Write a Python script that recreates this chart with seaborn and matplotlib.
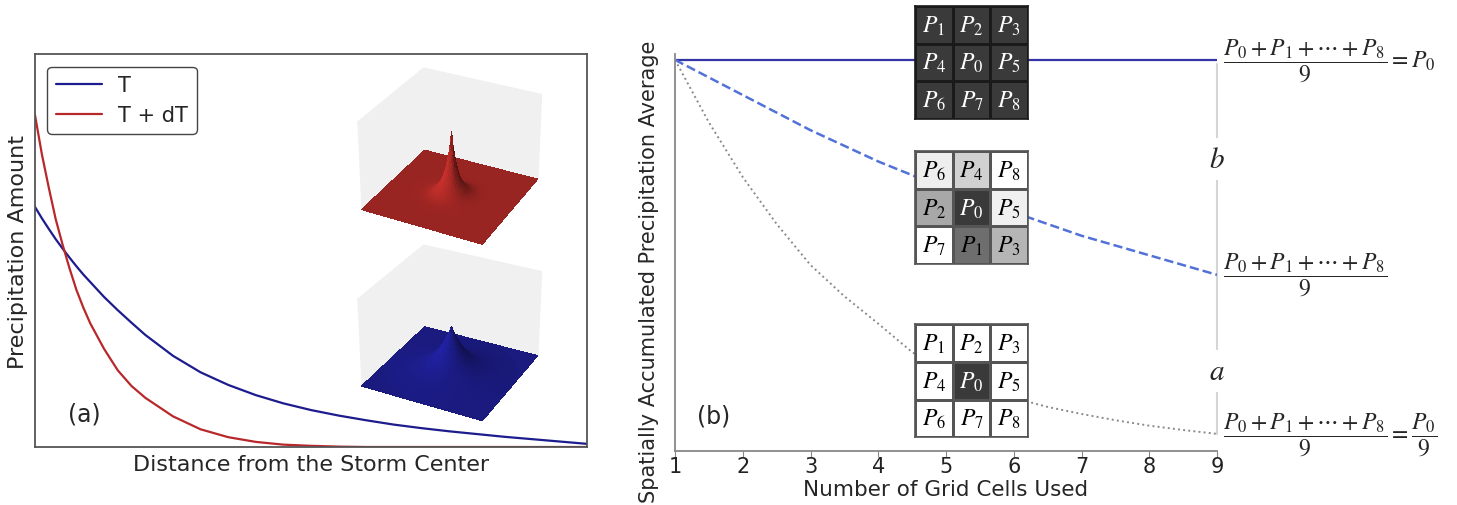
import numpy as np
import pandas as pd
import matplotlib
matplotlib.use("Agg")
import matplotlib.pyplot as plt
import seaborn as sns

sns.set_style("white")
plt.rcParams['font.family'] = ['DejaVu Sans']
plt.rcParams['mathtext.fontset'] = 'stix'

# (a) precipitation vs distance from storm centre (normalised)
dist = [0, 0.0125, 0.025, 0.0375, 0.05, 0.0625, 0.075, 0.0875, 0.1, 0.125, 0.15, 0.175,
        0.2, 0.25, 0.3, 0.35, 0.4, 0.45, 0.5, 0.55, 0.6, 0.65, 0.7, 0.75, 0.8, 0.85,
        0.9, 0.95, 1.0]
precip_T = [0.611, 0.582, 0.555, 0.529, 0.505, 0.482, 0.460, 0.439, 0.420, 0.382, 0.348,
            0.316, 0.285, 0.232, 0.190, 0.158, 0.132, 0.111, 0.094, 0.080, 0.068, 0.057,
            0.048, 0.040, 0.033, 0.026, 0.020, 0.014, 0.008]
precip_TdT = [0.845, 0.745, 0.660, 0.580, 0.515, 0.455, 0.400, 0.355, 0.315, 0.250, 0.195,
              0.155, 0.125, 0.078, 0.045, 0.025, 0.013, 0.006, 0.003, 0.001, 0.0, 0.0,
              0.0, 0.0, 0.0, 0.0, 0.0, 0.0, 0.0]

# (b) spatially accumulated average vs number of grid cells
n_cells = [1, 1.5, 2, 2.5, 3, 3.5, 4, 4.5, 5, 5.5, 6, 6.5, 7, 7.5, 8, 8.5, 9]
avg_uniform = [1.0] * len(n_cells)
avg_b = [1.0, 0.955, 0.91, 0.865, 0.82, 0.78, 0.74, 0.705, 0.67, 0.64, 0.61, 0.58,
         0.55, 0.525, 0.50, 0.475, 0.45]
avg_a = [1.0, 0.84, 0.70, 0.58, 0.475, 0.395, 0.325, 0.252, 0.205, 0.165, 0.135, 0.112,
         0.094, 0.078, 0.064, 0.053, 0.043]

# 3x3 cell layouts (index of P) and grey shade of each cell (0 black, 1 white)
cells_top = [[1, 2, 3], [4, 0, 5], [6, 7, 8]]
shade_top = [[0.23, 0.23, 0.23], [0.23, 0.23, 0.23], [0.23, 0.23, 0.23]]
cells_mid = [[6, 4, 8], [2, 0, 5], [7, 1, 3]]
shade_mid = [[0.93, 0.82, 1.0], [0.66, 0.23, 0.94], [1.0, 0.43, 0.71]]
cells_bot = [[1, 2, 3], [4, 0, 5], [6, 7, 8]]
shade_bot = [[1.0, 1.0, 1.0], [1.0, 0.23, 1.0], [1.0, 1.0, 1.0]]

fig = plt.figure(figsize=(14.57, 5.06), dpi=100)

#########################################################################
# panel (a)
axa = fig.add_axes([0.024, 0.1146, 0.379, 0.7767])
da = pd.DataFrame({'dist': dist + dist,
                   'precip': precip_T + precip_TdT,
                   'temp': ['T'] * len(dist) + ['T + dT'] * len(dist)})
sns.lineplot(data=da, x='dist', y='precip', hue='temp', estimator=None, sort=False,
             palette={'T': '#1c1c8e', 'T + dT': '#b8282b'}, lw=1.6, ax=axa)
axa.set_xlim(0, 1)
axa.set_ylim(0, 1.0)
axa.set_xticks([])
axa.set_yticks([])
for s in axa.spines.values():
    s.set_color('#555555')
    s.set_linewidth(1.3)
axa.set_xlabel('Distance from the Storm Center', fontsize=16, labelpad=5)
axa.set_ylabel('Precipitation Amount', fontsize=16, labelpad=5)
axa.legend(loc='upper left', fontsize=15, handlelength=2.2, frameon=True, fancybox=True,
           edgecolor='#444444', framealpha=1, borderaxespad=0.6)
axa.text(0.089, 0.085, '(a)', transform=axa.transAxes, fontsize=17, ha='center', va='center')

# 3d insets: radial storm built from the profiles above
g = np.linspace(-1.0, 1.0, 81)
gx, gy = np.meshgrid(g, g)
rr = np.hypot(gx, gy)
for rect, prof, col in [([0.222, 0.487, 0.172, 0.41], precip_TdT, '#c8302c'),
                        ([0.222, 0.137, 0.172, 0.41], precip_T, '#2222a6')]:
    ax3 = fig.add_axes(rect, projection='3d')
    ax3.plot_surface(gx, gy, np.interp(rr, dist, prof), color=col, linewidth=0,
                     antialiased=False, shade=True, rstride=1, cstride=1)
    ax3.set_xlim(-1, 1)
    ax3.set_ylim(-1, 1)
    ax3.set_zlim(0, 1.15)
    ax3.set_box_aspect((1, 1, 0.74))
    ax3.view_init(elev=30, azim=-63)
    ax3.set_xticks([])
    ax3.set_yticks([])
    ax3.set_zticks([])
    ax3.grid(False)
    for a in (ax3.xaxis, ax3.yaxis):
        a.line.set_color((1, 1, 1, 0))
        a.set_pane_color((0.94, 0.94, 0.94, 1.0))
    ax3.zaxis.line.set_color((1, 1, 1, 0))
    ax3.zaxis.set_pane_color((1, 1, 1, 0))
    ax3.patch.set_alpha(0)

#########################################################################
# panel (b)
axb = fig.add_axes([0.4633, 0.1073, 0.372, 0.784])
sns.lineplot(x=n_cells, y=avg_uniform, color='#3535a8', lw=1.6, ax=axb)
sns.lineplot(x=n_cells, y=avg_b, color='#5272d8', lw=1.8, linestyle='--', ax=axb)
sns.lineplot(x=n_cells, y=avg_a, color='#8a8a8a', lw=1.4, linestyle=':', ax=axb)
axb.set_xlim(1, 9)
axb.set_ylim(0, 1.015)
axb.set_xticks(range(1, 10))
axb.set_yticks([])
sns.despine(ax=axb)
for s in ('left', 'bottom'):
    axb.spines[s].set_color('#888888')
    axb.spines[s].set_linewidth(1.3)
axb.tick_params(axis='x', bottom=True, length=4, color='#888888', labelsize=15,
                labelcolor='#222222', pad=0)
axb.set_xlabel('Number of Grid Cells Used', fontsize=15.5, labelpad=2)
axb.set_ylabel('Spatially Accumulated Precipitation Average', fontsize=15)
axb.yaxis.set_label_coords(-0.03, 0.453)
axb.text(0.072, 0.088, '(b)', transform=axb.transAxes, fontsize=17, ha='center', va='center')

# bracket line at the right with a / b
axb.plot([n_cells[-1]] * 2, [avg_uniform[-1] - 0.01, avg_a[-1]], color='#d5d5d5',
         lw=1.5, clip_on=False, zorder=1)
wb = dict(boxstyle='square,pad=0.25', fc='white', ec='none')
axb.text(n_cells[-1], 0.746, '$b$', fontsize=21, ha='center', va='center', bbox=wb, zorder=2)
axb.text(n_cells[-1], 0.204, '$a$', fontsize=21, ha='center', va='center', bbox=wb, zorder=2)

frac = r'\dfrac{P_0+P_1+\cdots+P_8}{9}'
for yv, tail in [(avg_uniform[-1], '=P_0'), (avg_b[-1], ''), (avg_a[-1], r'=\dfrac{P_0}{9}')]:
    axb.annotate('$' + frac + tail + '$', xy=(n_cells[-1], yv), xytext=(4, 0),
                 textcoords='offset points', ha='left', va='center', fontsize=17,
                 annotation_clip=False)

# the 3x3 grids
for bottom, cells, shade, lc in [(0.763, cells_top, shade_top, '#1a1a1a'),
                                 (0.476, cells_mid, shade_mid, '#555555'),
                                 (0.134, cells_bot, shade_bot, '#555555')]:
    gax = fig.add_axes([0.628, bottom, 0.0776, 0.2233])
    labels = np.array([[r'$P_{\mathit{%d}}$' % c for c in row] for row in cells])
    sns.heatmap(np.array(shade), ax=gax, cmap='gray', vmin=0, vmax=1, cbar=False,
                linewidths=1, linecolor=lc, annot=labels, fmt='',
                annot_kws={'fontsize': 17})
    for t, v in zip(gax.texts, np.array(shade).ravel()):
        t.set_color('white' if v < 0.3 else 'black')
    gax.set_xticks([])
    gax.set_yticks([])
    for s in gax.spines.values():
        s.set_visible(True)
        s.set_color(lc)
        s.set_linewidth(1.2)

fig.savefig('out.png', dpi=100)
